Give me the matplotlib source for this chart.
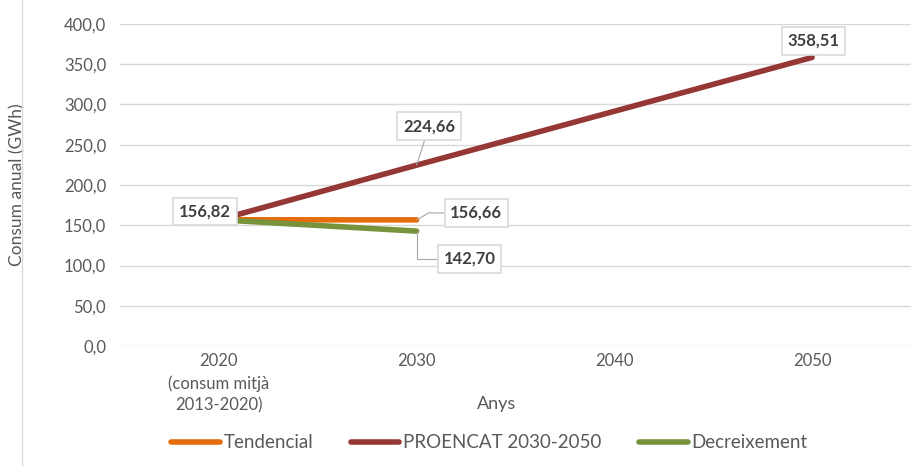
import matplotlib
matplotlib.use("Agg")
import matplotlib.pyplot as plt
import numpy as np

plt.rcParams["font.family"] = ["Lato", "DejaVu Sans"]

categories = ["2020\n(consum mitjà\n2013-2020)", "2030", "2040", "2050"]
series_names = ["Tendencial", "PROENCAT 2030-2050", "Decreixement"]
tendencial = [156.82, 156.66, np.nan, np.nan]
proencat = [156.82, 224.66, 291.6, 358.51]
decreixement = [156.82, 142.70, np.nan, np.nan]
y_ticks = [0, 50, 100, 150, 200, 250, 300, 350, 400]

colors = ["#E46C0A", "#953735", "#77933C"]
text_gray = "#595959"
grid_gray = "#D9D9D9"

fig = plt.figure(figsize=(9.13, 4.66), dpi=100)
ax = fig.add_axes([120 / 913, 120 / 466, (911 - 120) / 913, (346 - 24) / 466])

x = np.arange(len(categories))
for vals, name, col in zip([tendencial, proencat, decreixement], series_names, colors):
    ax.plot(x, vals, color=col, linewidth=4, solid_capstyle="round", label=name)

ax.set_xlim(-0.5, len(categories) - 0.5)
ax.set_ylim(0, 400)
ax.set_yticks(y_ticks)
ax.set_yticklabels([f"{v:.1f}".replace(".", ",") for v in y_ticks], color=text_gray, fontsize=12)
ax.set_xticks(x)
ax.set_xticklabels(categories, color=text_gray, fontsize=12, linespacing=1.45)
ax.tick_params(axis="y", length=0, pad=10)
ax.tick_params(axis="x", length=0, pad=5)
ax.yaxis.grid(True, color=grid_gray, linewidth=1)
ax.set_axisbelow(True)
for s in ax.spines.values():
    s.set_visible(False)

ax.set_xlabel("Anys", color=text_gray, fontsize=13)
ax.xaxis.set_label_coords(0.476, -0.155)
ax.set_ylabel("Consum anual (GWh)", color=text_gray, fontsize=12.5)
ax.yaxis.set_label_coords(-0.12, 0.5)

box = dict(boxstyle="square,pad=0.35", facecolor="white", edgecolor=grid_gray, linewidth=1.2)
lab_kw = dict(fontsize=12, fontweight="bold", color="#404040", ha="center", va="center", bbox=box)
arrow = dict(arrowstyle="-", color="#A6A6A6", linewidth=0.8, shrinkA=0, shrinkB=0)

def fmt(v):
    return f"{v:.2f}".replace(".", ",")

ax.annotate(fmt(tendencial[0]), xy=(x[0], tendencial[0]), xytext=(-10, 6),
            textcoords="offset points", **lab_kw)
ax.annotate(fmt(proencat[1]), xy=(x[1], proencat[1]), xytext=(9, 28),
            textcoords="offset points", arrowprops=arrow, **lab_kw)
ax.annotate(fmt(tendencial[1]), xy=(x[1], tendencial[1]), xytext=(43, 5),
            textcoords="offset points",
            arrowprops=dict(arrow, connectionstyle="angle,angleA=0,angleB=30,rad=0"), **lab_kw)
ax.annotate(fmt(decreixement[1]), xy=(x[1], decreixement[1]), xytext=(38, -20),
            textcoords="offset points",
            arrowprops=dict(arrow, connectionstyle="angle,angleA=0,angleB=90,rad=0"), **lab_kw)
ax.annotate(fmt(proencat[3]), xy=(x[3], proencat[3]), xytext=(1, 12),
            textcoords="offset points", **lab_kw)

leg = fig.legend(loc="center", bbox_to_anchor=(0.536, 0.05), ncol=3, frameon=False,
                 fontsize=13.5, handlelength=2.6, handletextpad=0.2, columnspacing=2.0)
for t in leg.get_texts():
    t.set_color(text_gray)

fig.add_artist(plt.Line2D([22 / 913, 22 / 913], [0, 1], color=grid_gray, linewidth=1))

fig.savefig("out.png", dpi=100)
